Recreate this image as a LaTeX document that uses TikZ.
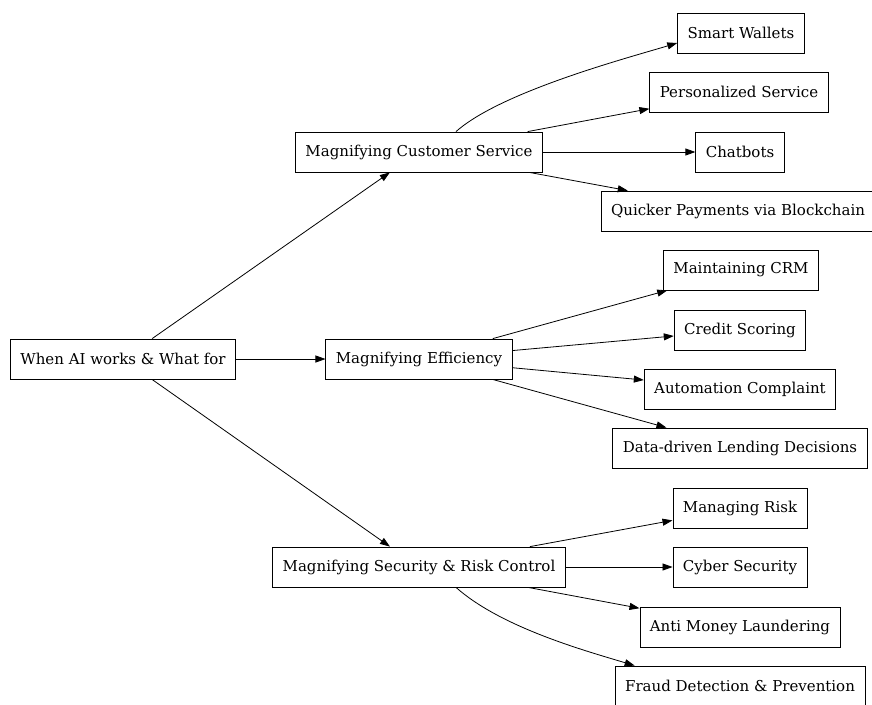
\documentclass[tikz,border=0pt]{standalone}
\usepackage{fontspec}
\setmainfont{DejaVu Serif}
\usetikzlibrary{arrows.meta}

\tikzset{
  box/.style={draw, line width=0.8pt, minimum height=40pt, inner xsep=10pt,
              font=\fontsize{15}{18}\selectfont},
  edge/.style={line width=0.8pt, -{Triangle[length=10pt,width=7pt]}}
}

\begin{document}
\begin{tikzpicture}[x=1pt,y=1pt]
            % Draw Page
            \fill[white] (0,0) rectangle (872,-704);
            \useasboundingbox (0,0) rectangle (872,-704);

            % Root Box
            \node[box] (root) at (123,-359) {When AI works \& What for};

            % Middle Boxes
            \node[box] (mcs)  at (419,-152) {Magnifying Customer Service};
            \node[box] (meff) at (419,-359) {Magnifying Efficiency};
            \node[box] (msrc) at (419,-567) {Magnifying Security \& Risk Control};

            % Leaf Boxes
            % -- customer service
            \node[box] (wallet)  at (741,-33)  {Smart Wallets};
            \node[box] (persvc)  at (739,-92)  {Personalized Service};
            \node[box] (chatbot) at (740,-152) {Chatbots};
            \node[box] (payment) at (738,-211) {Quicker Payments via Blockchain};

            % -- efficiency
            \node[box] (crm)     at (741,-270) {Maintaining CRM};
            \node[box] (credit)  at (740,-330) {Credit Scoring};
            \node[box] (complnt) at (740,-389) {Automation Complaint};
            \node[box] (lending) at (740,-448) {Data-driven Lending Decisions};

            % -- security & risk
            \node[box] (risk)    at (740,-508) {Managing Risk};
            \node[box] (cyber)   at (740,-567) {Cyber Security};
            \node[box] (aml)     at (740,-627) {Anti Money Laundering};
            \node[box] (fraud)   at (740,-686) {Fraud Detection \& Prevention};

            % Root Edges
            \draw[edge] (root) -- (mcs);
            \draw[edge] (root) -- (meff);
            \draw[edge] (root) -- (msrc);

            % Customer Service Edges
            \draw[edge] ([xshift=37pt]mcs.north) .. controls +(45,40) and +(-50,-15) .. ([yshift=-10pt]wallet.west);
            \draw[edge] (mcs) -- (persvc);
            \draw[edge] (mcs) -- (chatbot);
            \draw[edge] (mcs) -- (payment);

            % Efficiency Edges
            \draw[edge] (meff) -- (crm);
            \draw[edge] (meff) -- (credit);
            \draw[edge] (meff) -- (complnt);
            \draw[edge] (meff) -- (lending);

            % Security Edges
            \draw[edge] (msrc) -- (risk);
            \draw[edge] (msrc) -- (cyber);
            \draw[edge] (msrc) -- (aml);
            \draw[edge] ([xshift=37pt]msrc.south) .. controls +(45,-40) and +(-50,15) .. ([xshift=20pt]fraud.north west);
\end{tikzpicture}
\end{document}
